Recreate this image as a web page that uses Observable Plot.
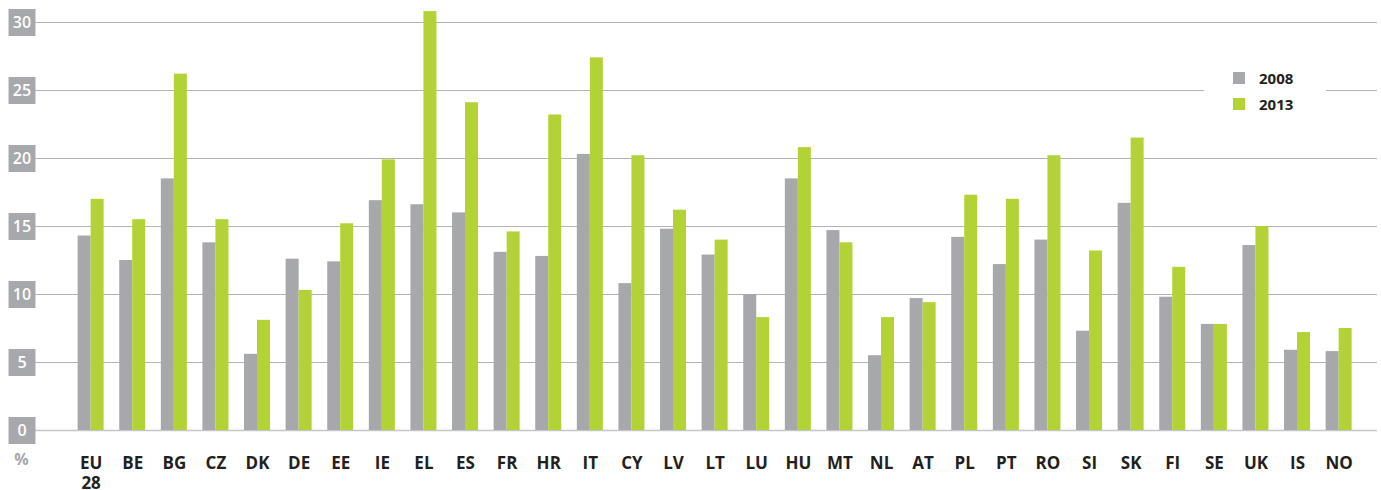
<!DOCTYPE html>
<html>
<head>
<meta charset="utf-8">
<script src="https://cdn.jsdelivr.net/npm/d3@7"></script>
<script src="https://cdn.jsdelivr.net/npm/@observablehq/plot@0.6"></script>
<style>
  body { margin: 0; background: #fff; font-family: "Open Sans", sans-serif; }
  #wrap { position: relative; width: 1381px; height: 490px; }
  #legend { position: absolute; left: 1204px; top: 63px; width: 122px; height: 54px; background: #fff; }
  .li { position: absolute; left: 29px; display: flex; align-items: center; font: 700 15px "Open Sans", sans-serif; color: #231f20; }
  .sw { width: 12px; height: 12px; margin-right: 14px; }
</style>
</head>
<body>
<div id="wrap"></div>
<script>
const cats = ["EU 28","BE","BG","CZ","DK","DE","EE","IE","EL","ES","FR","HR","IT","CY","LV","LT","LU","HU","MT","NL","AT","PL","PT","RO","SI","SK","FI","SE","UK","IS","NO"];
const v2008 = [14.3,12.5,18.5,13.8,5.6,12.6,12.4,16.9,16.6,16.0,13.1,12.8,20.3,10.8,14.8,12.9,10.0,18.5,14.7,5.5,9.7,14.2,12.2,14.0,7.3,16.7,9.8,7.8,13.6,5.9,5.8];
const v2013 = [17.0,15.5,26.2,15.5,8.1,10.3,15.2,19.9,30.8,24.1,14.6,23.2,27.4,20.2,16.2,14.0,8.3,20.8,13.8,8.3,9.4,17.3,17.0,20.2,13.2,21.5,12.0,7.8,15.0,7.2,7.5];
const yTicks = [0,5,10,15,20,25,30];
const seriesNames = ["2008","2013"];
const seriesColors = ["#a7a8ab","#b2d235"];

const rows = cats.map((c, i) => ({country: c, a: v2008[i], b: v2013[i]}));

const chart = Plot.plot({
  width: 1381,
  height: 490,
  marginLeft: 35,
  marginRight: 4,
  marginTop: 22,
  marginBottom: 60,
  style: {fontFamily: "Open Sans, sans-serif", background: "#fff"},
  x: {domain: cats, paddingInner: 0.375, paddingOuter: 0.817, align: 0.627, round: false, axis: null},
  y: {domain: [0, 30], axis: null},
  marks: [
    Plot.ruleY(yTicks.filter(d => d > 0), {stroke: "#b3b3b5", strokeWidth: 1}),
    Plot.ruleY([0], {stroke: "#c6c6c8", strokeWidth: 1.5}),
    Plot.barY(rows, {x: "country", y: "a", fill: seriesColors[0], insetRight: 13}),
    Plot.barY(rows, {x: "country", y: "b", fill: seriesColors[1], insetLeft: 13}),
    Plot.dot(yTicks, {y: d => d, frameAnchor: "left", dx: -13.5, symbol: "square", r: 15.2, fill: "#a7a8ab", stroke: null}),
    Plot.text(yTicks, {y: d => d, text: d => String(d), frameAnchor: "left", textAnchor: "middle", dx: -13.5, fill: "#fff", fontSize: 16, fontWeight: 600}),
    Plot.axisX({domain: cats, tickSize: 0, tickPadding: 25, tickFormat: d => d.replace(" ", "\n"), fontSize: 17, fontWeight: 700, fill: "#231f20", lineHeight: 1.15, label: null}),
    Plot.text(["%"], {frameAnchor: "bottom-left", textAnchor: "middle", dx: -14, dy: 34, fill: "#a7a8ab", fontSize: 16, fontWeight: 700})
  ]
});

const wrap = document.getElementById("wrap");
wrap.appendChild(chart);

const legend = document.createElement("div");
legend.id = "legend";
seriesNames.forEach((name, i) => {
  const item = document.createElement("div");
  item.className = "li";
  item.style.top = (i === 0 ? 5 : 31) + "px";
  const sw = document.createElement("span");
  sw.className = "sw";
  sw.style.background = seriesColors[i];
  item.appendChild(sw);
  item.appendChild(document.createTextNode(name));
  legend.appendChild(item);
});
wrap.appendChild(legend);
</script>
</body>
</html>
